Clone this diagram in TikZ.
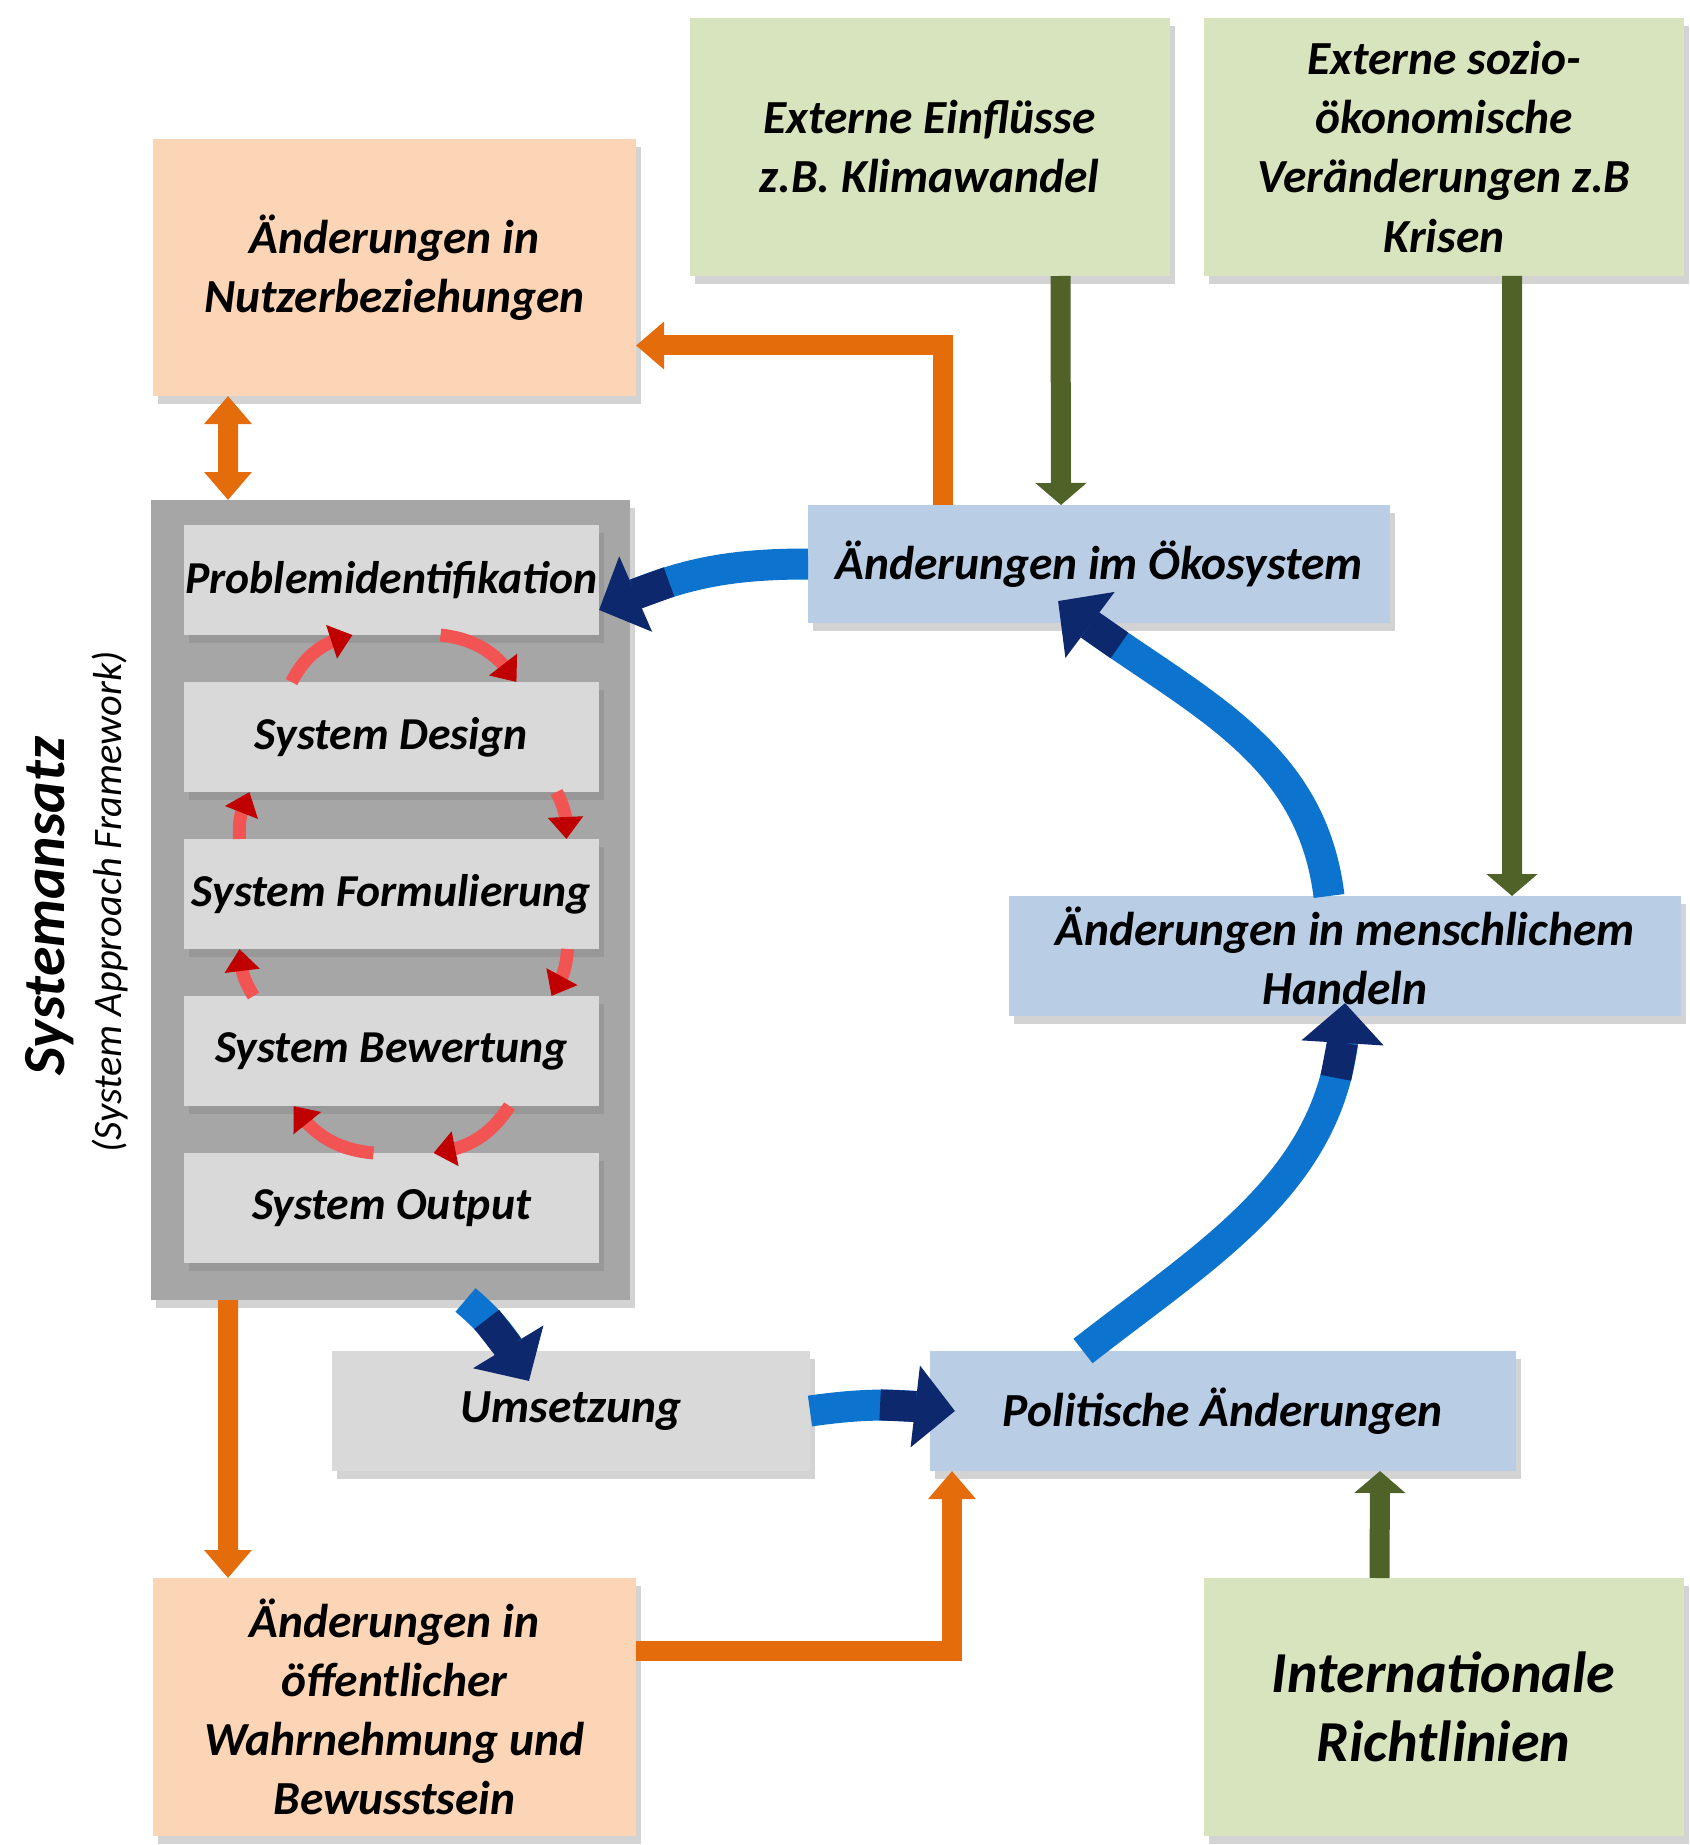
\documentclass[tikz,border=0pt]{standalone}
\usepackage{fontspec}
\setmainfont{Carlito}
\usepackage{tikz}
\usetikzlibrary{positioning}
\usetikzlibrary{arrows.meta,bending,shadows}

\definecolor{orfill}{RGB}{251,213,181}
\definecolor{grfill}{RGB}{215,228,189}
\definecolor{blfill}{RGB}{185,205,229}
\definecolor{sysgray}{RGB}{166,166,166}
\definecolor{ingray}{RGB}{217,217,217}
\definecolor{orline}{RGB}{228,108,10}
\definecolor{grline}{RGB}{79,98,40}
\definecolor{blline}{RGB}{12,116,206}
\definecolor{bldark}{RGB}{14,40,110}
\definecolor{cycred}{RGB}{242,84,84}
\definecolor{cycdark}{RGB}{192,0,0}

\begin{document}
\begin{tikzpicture}[
    node distance=0.47cm, % gap between the inner boxes of the Systemansatz
    box/.style={
        rectangle,
        inner sep=0pt,
        outer sep=0pt,
        align=center,
        font=\bfseries\itshape\fontsize{13.5}{16.8}\selectfont,
        drop shadow={shadow xshift=0.5mm, shadow yshift=-0.8mm, opacity=0.35}
    },
    orbox/.style={box, fill=orfill, minimum width=4.83cm, minimum height=2.57cm},
    grbox/.style={box, fill=grfill, minimum width=4.8cm, minimum height=2.58cm},
    blbox/.style={box, fill=blfill, minimum height=1.18cm},
    stepbox/.style={
        box,
        fill=ingray,
        minimum width=4.15cm,
        minimum height=1.1cm,
        font=\bfseries\itshape\fontsize{13}{15.6}\selectfont
    },
    ortip/.tip={Triangle[length=0.28cm, width=0.46cm]},
    grtip/.tip={Triangle[length=0.22cm, width=0.5cm]},
    bltip/.tip={Rectangle[length=0.36cm, width=0.31cm, color=bldark] Triangle[length=0.4cm, width=0.8cm, color=bldark]},
    cyctip/.tip={Triangle[length=0.22cm, width=0.34cm, color=cycdark]},
    orarrow/.style={line width=0.2cm, draw=orline, -ortip},
    grarrow/.style={line width=0.2cm, draw=grline, -grtip},
    blarrow/.style={line width=0.31cm, draw=blline, -bltip},
    cycarrow/.style={line width=0.13cm, draw=cycred, -cyctip}
]
    \useasboundingbox (0,0) rectangle (16.89,-18.45);

    % --- Outer boxes ---
    \node[orbox] (nutzer) at (3.945,-2.675) {Änderungen in\\Nutzerbeziehungen};
    \node[grbox] (klima)  at (9.295,-1.47)  {Externe Einflüsse\\z.B. Klimawandel};
    \node[grbox] (sozio)  at (14.44,-1.47)  {Externe sozio-\\ökonomische\\Veränderungen z.B\\Krisen};
    \node[blbox, minimum width=5.82cm] (oeko)   at (10.99,-5.64) {Änderungen im Ökosystem};
    \node[blbox, minimum width=6.72cm, minimum height=1.2cm] (mensch) at (13.45,-9.56) {Änderungen in menschlichem\\Handeln};
    \node[box, fill=ingray, minimum width=4.78cm, minimum height=1.2cm] (umsetz) at (5.71,-14.11) {Umsetzung};
    \node[blbox, minimum width=5.86cm, minimum height=1.2cm] (polit) at (12.23,-14.11) {Politische Änderungen};
    \node[orbox, minimum height=2.58cm] (oeff) at (3.945,-17.07) {Änderungen in\\öffentlicher\\Wahrnehmung und\\Bewusstsein};
    \node[grbox, font=\bfseries\itshape\fontsize{16.5}{19.5}\selectfont] (intl) at (14.435,-17.07) {Internationale\\Richtlinien};

    % --- Systemansatz with its five steps ---
    \node[box, fill=sysgray, minimum width=4.79cm, minimum height=8cm] (sys) at (3.905,-9.0) {};
    \node[stepbox] (problem) at (3.915,-5.8) {Problemidentifikation};
    \node[stepbox, below=of problem] (design)  {System Design};
    \node[stepbox, below=of design]  (formul)  {System Formulierung};
    \node[stepbox, below=of formul]  (bewert)  {System Bewertung};
    \node[stepbox, below=of bewert]  (output)  {System Output};

    \node[rotate=90, font=\bfseries\itshape\fontsize{17}{20}\selectfont] (satz) at (0.5,-9.06) {Systemansatz};
    \node[rotate=90, font=\itshape\fontsize{11.5}{14}\selectfont] (sysen) at (1.1,-9.02) {(System Approach Framework)};

    % --- Red cycle between the steps ---
    \draw[cycarrow] ([xshift=-10mm]design.north) to[bend left=25] ([xshift=-3.9mm]problem.south);
    \draw[cycarrow] ([xshift=4.9mm]problem.south) to[bend left=25] ([xshift=12.5mm]design.north);
    \draw[cycarrow] ([xshift=16.5mm]design.south) to[bend left=15] ([xshift=17.5mm]formul.north);
    \draw[cycarrow] ([xshift=17.6mm]formul.south) to[bend left=15] ([xshift=16mm]bewert.north);
    \draw[cycarrow] ([xshift=11.8mm]bewert.south) to[bend left=25] ([xshift=4.2mm]output.north);
    \draw[cycarrow] ([xshift=-1.8mm]output.north) to[bend left=25] ([xshift=-9.8mm]bewert.south);
    \draw[cycarrow] ([xshift=-13.8mm]bewert.north) to[bend left=15] ([xshift=-15.2mm]formul.south);
    \draw[cycarrow] ([xshift=-15.2mm]formul.north) to[bend left=15] ([xshift=-14.2mm]design.south);

    % --- Orange links ---
    \draw[orarrow, ortip-ortip] ([xshift=7.5mm]nutzer.south west) -- ([xshift=7.7mm]sys.north west);
    \draw[orarrow] ([xshift=13.5mm]oeko.north west) |- ([yshift=-7.8mm]nutzer.east);
    \draw[orarrow] ([xshift=7.7mm]sys.south west) -- ([xshift=7.5mm]oeff.north west);
    \draw[orarrow] ([yshift=5.6mm]oeff.east) -| ([xshift=2.2mm]polit.south west);

    % --- Green external influences ---
    \draw[grarrow] ([xshift=13.1mm]klima.south) -- ([xshift=-3.8mm]oeko.north);
    \draw[grarrow] ([xshift=6.8mm]sozio.south) -- ([xshift=16.7mm]mensch.north);
    \draw[grarrow] ([xshift=-6.4mm]intl.north) -- ([xshift=15.7mm]polit.south);

    % --- Blue loop ---
    \draw[blarrow] (oeko.west) to[out=180, in=25] ([yshift=-3mm]problem.east);
    \draw[blarrow] ([xshift=7.5mm]sys.south) to[out=-40, in=120] ([xshift=-4.2mm, yshift=-3mm]umsetz.north);
    \draw[blarrow] (umsetz.east) to[bend left=8] ([xshift=2.5mm]polit.west);
    \draw[blarrow] ([xshift=-14mm]polit.north) to[out=38, in=-90] ([yshift=1.3mm]mensch.south);
    \draw[blarrow] ([xshift=-1.6mm]mensch.north) to[out=97, in=-38] ([xshift=-4.1mm, yshift=2.2mm]oeko.south);
\end{tikzpicture}
\end{document}
